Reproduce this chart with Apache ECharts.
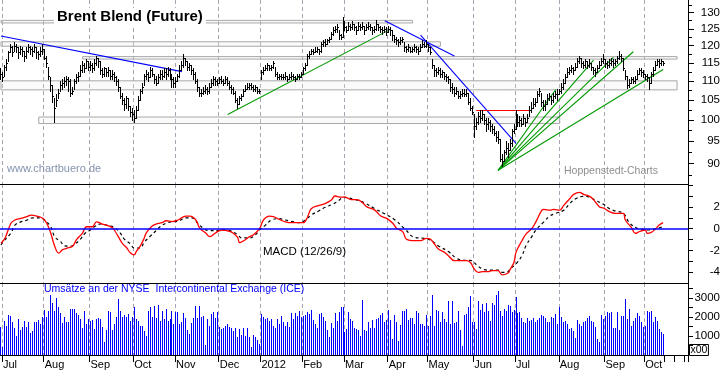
<!DOCTYPE html>
<html><head><meta charset="utf-8">
<script src="https://cdn.jsdelivr.net/npm/echarts@6/dist/echarts.min.js"></script>
<style>html,body{margin:0;padding:0;background:#fff}#c{width:723px;height:372px}</style>
</head><body><div id="c"></div>
<script>
// ---- daily price bars (Jun 30 2011 .. Oct 12 2012) ----
const closes = [
112.0,111.0,114.0,115.0,118.0,119.5,118.0,120.0,119.5,118.0,119.0,118.5,117.0,118.5,119.5,119.0,118.5,119.5,118.0,117.5,118.5,119.0,
116.5,115.0,111.5,109.0,106.0,103.0,105.0,107.0,109.0,109.5,110.0,110.5,110.0,107.0,107.5,110.0,111.0,111.5,113.0,114.5,113.5,115.5,114.0,
114.5,113.5,115.0,116.5,115.5,113.0,112.0,113.5,112.5,113.0,111.5,112.0,111.0,110.0,108.5,106.0,105.0,104.0,105.5,103.5,102.0,101.5,
100.5,102.5,105.0,107.5,108.5,111.5,112.0,111.0,113.0,112.0,110.5,109.5,111.0,112.0,111.5,112.5,112.0,113.0,111.5,110.5,109.5,
110.0,111.5,113.0,114.5,116.5,115.5,114.0,114.5,113.0,112.0,110.0,108.5,107.0,107.0,107.5,108.0,107.5,108.5,109.5,110.5,110.0,109.5,
110.5,110.0,109.5,110.5,109.5,108.5,108.0,107.0,105.0,104.0,105.5,106.0,107.5,108.0,108.5,109.0,108.5,108.0,108.5,107.5,107.5,
112.5,113.0,113.5,114.5,113.5,114.0,115.0,112.0,111.0,111.5,111.0,111.0,111.5,110.5,111.0,111.5,111.0,110.5,111.5,111.0,112.0,
113.5,114.5,117.0,117.5,118.5,118.0,118.5,119.0,118.5,120.5,121.0,120.5,121.5,122.0,123.5,124.5,125.0,125.5,123.0,122.5,126.5,
125.5,124.5,126.0,125.5,126.5,125.5,124.5,126.0,125.5,126.0,124.5,125.5,126.0,125.5,124.5,125.0,126.5,125.5,125.0,124.5,125.0,124.0,
125.0,124.5,123.0,122.0,121.5,121.0,121.5,122.0,119.5,119.0,119.5,118.5,119.0,119.5,119.0,118.5,119.5,120.5,120.0,120.5,
119.5,118.0,114.5,113.0,112.5,113.0,112.0,112.5,111.5,111.0,110.5,108.5,108.0,107.0,107.5,106.0,106.5,107.0,106.5,107.0,104.5,103.0,102.0,
98.5,99.5,101.0,100.5,101.5,100.0,99.0,99.5,98.5,98.0,97.0,96.0,95.5,91.0,90.5,92.5,93.5,93.0,94.5,97.5,98.0,
100.5,99.5,100.0,99.0,100.5,99.5,100.5,102.5,103.0,104.0,104.5,106.5,107.5,104.5,103.5,104.0,105.5,106.0,105.0,106.0,106.5,106.5,
107.5,108.5,109.5,111.0,112.5,113.0,113.5,113.0,114.0,115.5,116.5,115.0,114.5,115.5,114.5,115.0,114.0,113.0,112.5,113.5,114.5,115.5,116.0,
115.0,114.5,115.0,115.5,115.0,115.5,116.5,117.0,116.5,113.5,111.5,109.0,109.5,110.5,110.0,110.5,112.0,113.0,112.5,112.0,
111.5,111.0,109.5,112.0,113.0,114.5,115.5,115.0,115.5,115.0];
const highs = [
113.5,112.5,114.5,116.0,118.5,120.5,120.0,121.0,120.5,119.5,120.0,119.5,118.5,119.5,120.5,120.0,119.5,120.5,119.5,118.5,119.5,120.5,
119.0,117.0,114.0,111.0,109.0,105.5,106.5,108.0,110.0,110.5,111.0,111.5,111.0,110.5,108.5,110.5,112.0,112.5,114.5,115.5,115.0,116.0,115.5,
115.5,115.0,116.0,117.0,116.5,115.5,113.5,114.0,113.5,114.0,113.0,113.0,112.5,111.5,110.5,108.5,107.0,105.5,106.0,105.5,103.5,103.0,
102.5,103.5,106.0,108.0,109.5,112.0,113.0,112.5,114.0,113.5,112.0,111.5,112.0,113.0,113.0,113.5,113.5,114.0,113.5,112.0,111.0,
111.0,112.0,114.5,115.5,117.5,116.5,115.5,115.0,114.5,113.5,112.5,110.5,108.5,108.0,108.5,109.0,108.5,109.5,110.5,111.5,111.0,110.5,
111.0,111.5,110.5,111.5,111.0,110.0,109.0,108.5,107.5,105.5,106.0,106.5,108.0,109.0,109.5,109.5,109.5,109.0,109.0,108.5,108.0,
113.0,114.0,114.5,115.0,114.5,114.5,115.5,114.0,112.5,112.0,112.0,112.0,112.5,111.5,112.0,112.5,112.0,111.5,112.0,112.0,112.5,
114.0,115.0,117.5,118.5,119.0,119.0,119.5,119.5,119.0,121.0,121.5,122.0,122.0,122.5,124.0,125.5,126.0,126.5,124.5,123.5,128.5,
127.5,126.0,127.0,126.5,127.5,126.5,126.0,127.0,126.5,127.0,126.0,126.5,127.0,126.5,125.5,126.0,127.8,126.5,126.0,125.5,126.0,125.5,
126.0,125.5,124.5,123.0,122.5,122.0,122.5,122.5,121.0,120.0,120.5,119.5,119.5,120.5,120.0,119.5,120.5,121.5,121.0,121.5,
120.5,119.5,116.0,114.5,113.5,114.0,113.5,113.0,112.5,112.0,111.5,110.5,109.5,108.5,108.5,107.5,107.5,108.0,108.0,108.0,107.0,105.5,103.5,
101.5,100.5,102.0,102.5,102.5,101.5,100.5,100.5,100.0,99.0,98.5,97.5,97.5,95.5,92.0,93.0,95.0,94.5,95.5,98.0,99.0,
102.5,101.5,101.0,100.5,101.5,100.5,101.5,103.5,104.5,105.5,105.5,107.5,108.3,107.0,105.0,105.0,106.5,107.0,106.0,107.0,107.5,108.0,
108.0,109.5,110.5,112.0,113.5,114.0,114.5,114.0,115.0,116.5,117.0,116.5,115.5,116.0,115.5,116.0,115.0,114.0,113.5,114.5,115.5,116.5,117.5,
116.0,115.5,116.0,116.5,116.0,116.0,117.0,118.5,117.5,116.5,113.0,111.5,110.5,111.0,111.0,111.5,113.0,113.5,113.5,113.0,
112.0,112.0,111.0,112.5,114.0,115.5,116.0,116.0,116.0,115.5];
const lows = [
110.5,110.0,111.5,113.0,115.5,118.0,117.0,118.5,118.0,116.5,117.5,117.0,115.5,116.5,118.0,117.5,117.0,118.0,116.5,116.0,117.0,117.5,
116.0,114.0,110.5,107.5,104.5,99.5,103.5,105.5,107.5,108.0,108.5,109.0,107.5,106.0,106.5,108.0,109.5,110.0,111.5,112.5,112.5,113.5,113.0,
113.0,112.5,113.0,114.5,114.0,112.0,111.0,111.5,111.5,111.5,110.5,110.5,110.0,109.0,107.5,105.5,104.0,102.5,103.0,102.5,101.0,100.0,
99.5,100.5,102.5,105.0,107.0,109.0,110.5,110.0,111.0,111.5,109.5,109.0,109.5,110.5,110.5,111.0,110.5,111.5,110.5,108.5,108.5,
108.5,110.0,111.0,113.0,114.0,114.5,113.0,113.0,112.0,110.5,109.5,107.5,106.0,106.0,106.5,107.0,106.5,107.0,108.5,109.0,109.0,109.0,
109.5,109.5,109.0,109.5,109.0,108.0,107.0,106.5,104.5,103.0,104.0,105.0,106.0,107.5,108.0,108.0,108.0,107.5,107.5,107.0,107.0,
110.5,112.0,113.0,113.0,113.0,113.0,113.5,111.5,110.5,110.5,110.5,110.5,110.5,110.0,110.5,110.5,110.5,110.0,110.5,110.5,111.0,
112.0,113.0,114.5,116.5,117.5,117.5,118.0,118.0,117.5,118.0,120.0,120.0,120.5,121.0,122.0,123.0,124.0,124.0,122.0,122.0,122.5,
124.5,124.0,124.5,124.5,125.0,124.5,123.5,124.5,124.5,125.0,123.5,124.5,125.0,124.5,123.5,124.0,124.5,124.5,124.0,123.5,124.0,123.0,
124.0,123.0,121.5,121.0,120.5,120.0,120.5,121.0,118.5,118.0,118.5,118.0,118.0,118.5,118.0,117.5,118.5,119.5,119.5,119.5,
118.5,117.5,113.5,111.5,111.5,112.0,111.0,111.0,110.5,110.0,109.5,107.5,107.0,106.0,106.5,105.5,105.5,106.0,106.0,106.0,104.0,102.5,101.5,
96.0,98.0,99.0,99.5,100.0,99.0,97.5,98.0,97.5,97.0,96.5,95.0,94.5,90.5,89.5,90.5,92.0,91.5,93.0,94.0,97.0,
98.0,98.5,98.5,98.5,99.0,98.5,99.5,101.0,102.0,103.0,103.5,104.5,106.0,103.5,102.5,102.5,104.0,105.0,104.0,104.5,105.5,105.0,
106.5,107.0,108.0,109.5,111.0,112.0,112.5,112.0,113.0,114.0,115.0,114.0,113.5,114.0,113.5,114.0,113.0,112.0,111.5,112.5,113.5,114.5,115.0,
114.0,113.5,114.0,114.5,114.0,114.5,115.0,116.0,115.5,113.0,110.5,108.3,108.5,109.5,109.5,109.5,110.5,112.0,111.5,111.0,
110.5,110.0,108.0,109.5,111.5,113.0,114.5,114.0,114.5,114.5];
// ---- daily volume (x100) ----
const volumes = [
1490,400,1800,1540,2120,2070,1720,1420,1015,1890,1310,1490,1800,1490,1720,1140,1240,1720,1720,1840,1650,1980,
2370,2015,2330,3170,2720,2300,3000,2540,2190,1660,2015,1720,1720,2420,2420,2420,2190,2120,1890,1420,2300,1650,1900,
1800,1840,1360,1890,1950,1890,1490,660,1310,2300,2240,1310,1630,1980,2940,2300,1980,2120,1980,2160,1770,1980,
2540,1890,1800,1540,1540,1280,1020,2330,2510,1980,2590,1950,2650,1800,2330,1890,2420,1800,1890,2330,1630,
2240,2240,1630,1720,2190,1950,1310,1100,1660,1950,2590,1950,2590,1980,2070,540,1890,1540,2160,2240,1950,2240,
1490,1370,1420,1540,1630,1490,1420,1280,1420,930,1370,1070,1400,1020,1420,930,440,1070,930,790,600,
2160,1980,1890,1950,1800,1890,1540,1420,1890,1630,2070,1720,1540,1720,1450,2190,1890,2190,2070,2330,1980,
2070,2120,2240,2160,2370,1840,1630,1420,2160,2190,1980,1800,1310,960,1660,1420,2190,1800,2240,2510,2540,
1190,1370,2240,1890,1800,1440,1370,1310,1015,2890,1300,1280,1750,1420,1840,1420,1890,1950,2120,2190,1720,1840,
2370,1840,840,2120,1720,750,1590,2300,2330,2400,1840,1950,1950,1630,2330,2190,1630,1630,1540,2100,
1540,2070,3170,1540,2370,2300,1720,2240,1890,1720,2820,1630,2860,1660,1720,2300,1310,490,2120,2160,2510,3120,1720,
1720,1370,2820,2370,2680,2240,2760,2300,1800,2760,2650,3170,3380,2300,2070,2420,2300,2650,2590,2240,2370,
3070,2190,2240,1950,1720,1660,1950,1800,1840,1950,1720,1840,1950,2120,2070,1950,1720,1720,2010,1950,2160,1630,
2540,2010,1720,1800,1630,1370,1420,1280,890,1840,1630,1540,1720,1800,1950,2070,1800,1720,1490,840,660,2100,1900,
2070,2240,2190,2240,1420,1420,2240,1310,2070,2070,2940,1890,2420,1540,1800,1950,2190,2070,1720,1500,
1540,2300,2240,2300,1720,2010,1770,1370,1190,1100];
// ---- MACD (12/26/9): [day index, value] ----
const macdLine = [[0,-1.34],[2,-0.88],[5,0.5],[7,0.8],[10,0.95],[13,1.1],[15,1.25],[18,1.16],[21,0.95],[23,0.5],[25,-0.4],[27,-1.6],[29,-2.24],[31,-1.92],[33,-1.8],[36,-1.6],[38,-1.0],[41,-0.4],[43,0.18],[46,0.18],[48,0.63],[51,0.43],[53,0.33],[56,0.1],[57,-0.12],[59,-0.73],[61,-1.34],[63,-1.7],[65,-2.2],[67,-2.4],[68,-2.1],[70,-1.6],[72,-0.88],[73,-0.4],[76,0.24],[78,0.43],[81,0.55],[83,0.73],[86,0.65],[89,0.8],[93,1.16],[95,1.16],[98,0.8],[100,0.03],[103,-0.4],[105,-0.73],[108,-0.37],[111,-0.12],[115,-0.24],[117,-0.43],[119,-0.8],[120,-1.28],[122,-1.1],[125,-0.73],[127,-0.55],[130,0],[132,0.8],[135,1.16],[137,1.1],[140,0.85],[143,0.63],[146,0.55],[149,0.55],[152,0.55],[154,1.0],[156,1.83],[160,2.14],[163,2.3],[166,2.6],[168,3.0],[171,2.9],[173,2.9],[176,2.67],[179,2.67],[182,2.36],[184,2.0],[188,1.7],[191,1.16],[194,0.95],[197,0.5],[199,0.03],[202,-0.27],[204,-0.98],[208,-1.1],[211,-1.1],[214,-0.88],[216,-0.98],[218,-1.4],[220,-1.86],[223,-2.17],[225,-2.47],[228,-2.93],[231,-2.93],[234,-2.93],[236,-3.08],[238,-3.69],[240,-4.0],[242,-3.94],[245,-3.94],[247,-3.85],[250,-3.85],[252,-4.24],[255,-4.06],[256,-3.75],[258,-3.08],[259,-2.17],[262,-1.1],[264,-0.49],[267,0.03],[269,0.63],[272,1.7],[273,1.77],[276,1.7],[278,1.77],[281,1.7],[283,2.14],[286,2.75],[288,3.15],[291,3.33],[293,3.15],[296,2.97],[298,2.67],[301,2.0],[303,1.9],[306,1.56],[309,1.41],[311,1.41],[313,1.41],[314,0.8],[317,0.12],[319,-0.43],[321,-0.27],[324,-0.12],[325,-0.43],[327,-0.34],[329,-0.06],[331,0.33],[333,0.55]];
const signalLine = [[0,-1.5],[1,-1.2],[5,-0.4],[7,0.33],[10,0.63],[13,0.78],[16,1.0],[20,1.0],[22,0.78],[25,0.18],[27,-0.73],[30,-1.19],[32,-1.58],[35,-1.6],[37,-1.43],[40,-0.95],[42,-0.46],[45,-0.12],[47,0.18],[50,0.43],[53,0.33],[57,0.12],[60,-0.4],[62,-0.95],[65,-1.37],[67,-1.77],[70,-1.77],[72,-1.25],[75,-0.7],[78,-0.18],[80,0.18],[83,0.5],[86,0.63],[89,0.68],[93,1.0],[96,1.0],[99,0.5],[102,0],[105,-0.18],[109,-0.18],[112,-0.12],[115,-0.18],[119,-0.55],[121,-0.85],[125,-0.85],[128,-0.55],[130,-0.12],[133,0.33],[136,0.8],[140,0.92],[143,0.8],[146,0.68],[150,0.55],[153,0.78],[156,1.25],[160,1.65],[163,1.96],[167,2.26],[170,2.6],[172,2.87],[178,2.67],[183,2.36],[188,1.83],[193,1.37],[198,0.82],[203,0],[208,-0.8],[213,-0.88],[216,-1.04],[220,-1.58],[225,-2.1],[229,-2.7],[233,-2.9],[236,-2.9],[240,-3.45],[243,-3.75],[246,-3.8],[250,-3.8],[252,-4.0],[255,-3.94],[256,-3.69],[259,-3.24],[262,-2.47],[264,-1.56],[267,-0.7],[269,-0.12],[273,0.63],[276,1.16],[279,1.41],[283,1.7],[286,2.3],[289,2.75],[293,2.97],[296,2.9],[299,2.6],[303,2.24],[306,1.83],[309,1.62],[313,1.41],[316,0.55],[320,0.03],[323,-0.06],[326,-0.12],[330,0.03],[333,0.18]];
// ---- tick labels ----
const priceLabels = [90,95,100,105,110,115,120,125,130];
const priceMinor = [87.5,92.5,97.5,102.5,107.5,112.5,117.5,122.5,127.5,132.5];
const macdLabels = [-4,-2,0,2];
const macdTicks = [-4,-3,-2,-1,0,1,2,3,4];
const volLabels = [1000,2000,3000];
const volTicks = [500,1000,1500,2000,2500,3000,3500];
const monthNames = ['Jan','Feb','Mar','Apr','May','Jun','Jul','Aug','Sep','Oct','Nov','Dec'];
// ---- drawn annotations: [startIndex, startPrice, endIndex, endPrice, color] ----
const trendLines = [
  [0,122.8,91,112.6,'#0000ff'],
  [193,127.5,228,116.95,'#0000ff'],
  [211,123.1,259,94.5,'#0000ff'],
  [114,101.4,196,124.9,'#009900'],
  [250,88.5,279,107.8,'#009900'],
  [250,88.5,298,115.8,'#009900'],
  [250,88.5,308,116.6,'#009900'],
  [250,88.5,318,118.2,'#009900'],
  [250,88.5,333,113.2,'#009900'],
  [239,102.5,267,102.5,'#ff0000']
];
// zones: [startIndex, lowPrice, endIndex, highPrice]
const zones = [[0,126.8,207,127.6],[0,119.8,221,121.1],[41,116.1,340,116.8],[0,107.7,340,110.1],[19,99.2,281,100.8]];

// ---- categories: trading days ----
const holidays = ['2011-12-26','2012-01-02','2012-04-06'];
const categories = [];
let d = new Date(Date.UTC(2011,5,30));
while (categories.length < 346) {
  const wd = d.getUTCDay(); const s = d.toISOString().slice(0,10);
  if (wd !== 0 && wd !== 6 && holidays.indexOf(s) < 0) categories.push(s);
  d = new Date(d.getTime() + 86400000);
}
const N = closes.length;
const isMonthStart = i => i > 0 && categories[i].slice(5,7) !== categories[i-1].slice(5,7);
const isTick = i => isMonthStart(i) || (i >= N && new Date(categories[i]).getUTCDay() === 1);
const L = Math.log;
const FONT = 'Liberation Sans, Arial, sans-serif';

const chart = echarts.init(document.getElementById('c'));
const grids = [
  {left:0, top:0, width:688, height:184},
  {left:0, top:184, width:688, height:99},
  {left:0, top:283, width:688, height:72}
].map(g => Object.assign(g, {containLabel:false, outerBoundsMode:'none'}));
const splitLine = {show:true, interval:(i)=>isMonthStart(i), lineStyle:{color:'#a9a3b3', type:[4,3], width:1}};
function xAx(gi, bottom) {
  return {type:'category', gridIndex:gi, data:categories, boundaryGap:true,
    axisLine:{show:true, onZero:false, lineStyle:{color:'#000', width:1}},
    axisTick: bottom ? {show:true, interval:(i)=>isTick(i), length:7, lineStyle:{color:'#000'}} : {show:false},
    axisLabel: bottom ? {show:true, interval:(i)=>isMonthStart(i), align:'left', margin:4, fontSize:11, color:'#000', fontFamily:FONT,
      formatter:(v)=>{const m=+v.slice(5,7); return m===1 ? v.slice(0,4) : monthNames[m-1];}} : {show:false},
    splitLine: splitLine};
}
function yAx(gi, min, max, labels, ticks, fmt, tickLen, showLine) {
  return {type:'value', gridIndex:gi, position:'right', min:min, max:max, scale:true,
    axisLine:{show:showLine, lineStyle:{color:'#000'}},
    axisTick:{show:true, length:tickLen, customValues:ticks, lineStyle:{color:'#000'}},
    axisLabel: labels ? {show:true, customValues:labels, formatter:fmt, align:'right', margin:32, fontSize:11.5, color:'#000', fontFamily:FONT} : {show:false},
    splitLine:{show:false}};
}
const option = {
  animation:false,
  textStyle:{fontFamily:FONT},
  grid: grids,
  xAxis:[xAx(0,false), xAx(1,false), xAx(2,true)],
  yAxis:[
    yAx(0, L(85.6), L(134.1), priceLabels.map(L), priceLabels.map(L), v=>String(Math.round(Math.exp(v))), 6, true),
    yAx(0, L(85.6), L(134.1), null, priceMinor.map(L), null, 4, false),
    yAx(1, -4.98, 4.1, macdLabels, macdTicks, v=>String(v), 5, true),
    yAx(2, 0, 3790, volLabels, volTicks, v=>String(v), 5, true)
  ],
  series:[
    {type:'custom', xAxisIndex:0, yAxisIndex:0, z:5,
     data: closes.map((c,i)=>[i, L(lows[i]), L(highs[i]), L(c)]),
     encode:{x:0, y:[1,2,3]},
     renderItem:(params, api)=>{
       const i = api.value(0);
       const pl = api.coord([i, api.value(1)]);
       const ph = api.coord([i, api.value(2)]);
       const pc = api.coord([i, api.value(3)]);
       const xs = Math.floor(pl[0]) + 0.5;
       const yc = Math.round(pc[1]) + 0.5;
       return {type:'group', children:[
         {type:'line', shape:{x1:xs, y1:Math.round(ph[1]), x2:xs, y2:Math.round(pl[1])+1}, style:{stroke:'#000', lineWidth:1}},
         {type:'line', shape:{x1:xs, y1:yc, x2:xs+1.5, y2:yc}, style:{stroke:'#000', lineWidth:1}}
       ]};
     },
     markLine:{silent:true, symbol:['none','none'], label:{show:false}, animation:false,
       data: trendLines.map(t=>[{coord:[t[0], L(t[1])], lineStyle:{color:t[4], width:1.1, type:'solid'}}, {coord:[t[2], L(t[3])]}])},
     markArea:{silent:true, animation:false,
       itemStyle:{color:'rgba(235,235,235,0.25)', borderColor:'#a8a8a8', borderWidth:1},
       data: zones.map(z=>[{coord:[z[0], L(z[1])]}, {coord:[z[2], L(z[3])]}])}
    },
    {type:'line', xAxisIndex:1, yAxisIndex:2, data:signalLine, showSymbol:false, smooth:0.4, z:3,
     lineStyle:{color:'#000', width:1.2, type:[3,3]},
     markLine:{silent:true, symbol:['none','none'], label:{show:false}, animation:false,
       data:[{yAxis:0, lineStyle:{color:'#0000ff', width:1.5, type:'solid'}}]}},
    {type:'line', xAxisIndex:1, yAxisIndex:2, data:macdLine, showSymbol:false, smooth:0.4, z:4,
     lineStyle:{color:'#ff0000', width:1.3}},
    {type:'custom', xAxisIndex:2, yAxisIndex:3, z:3,
     data: volumes.map((v,i)=>[i, v]),
     encode:{x:0, y:1},
     renderItem:(params, api)=>{
       const top = api.coord([api.value(0), api.value(1)]);
       const base = api.coord([api.value(0), 0]);
       const xs = Math.floor(top[0]) + 0.5;
       return {type:'line', shape:{x1:xs, y1:Math.round(top[1]), x2:xs, y2:Math.round(base[1])}, style:{stroke:'#0000ff', lineWidth:1}};
     }}
  ],
  graphic:[
    {type:'text', left:54, top:8, z:100, style:{text:'Brent Blend (Future)', font:'bold 15px '+FONT, fill:'#000', backgroundColor:'#fff', padding:[1,3]}},
    {type:'text', left:7, top:163, z:100, style:{text:'www.chartbuero.de', font:'11px '+FONT, fill:'#8493ad'}},
    {type:'text', left:564, top:166, z:100, style:{text:'Hoppenstedt-Charts', font:'10.5px '+FONT, fill:'#8e8e8e'}},
    {type:'text', left:263, top:246, z:100, style:{text:'MACD (12/26/9)', font:'11.5px '+FONT, fill:'#000'}},
    {type:'text', left:44, top:284, z:100, style:{text:'Umsätze an der NYSE  Intercontinental Exchange (ICE)', font:'10.5px '+FONT, fill:'#0000ff'}},
    {type:'text', left:689, top:344, z:100, style:{text:'x00', font:'10.5px '+FONT, fill:'#000', borderColor:'#000', borderWidth:1, padding:[0,1]}}
  ]
};
chart.setOption(option);
</script></body></html>
